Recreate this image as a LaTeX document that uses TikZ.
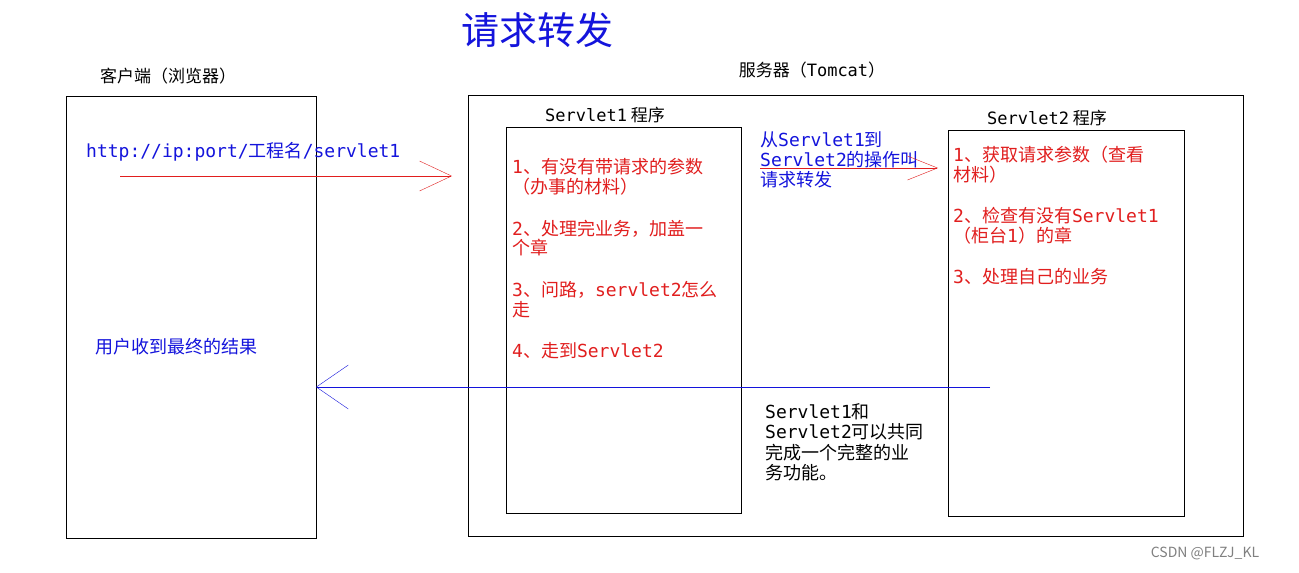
\documentclass[tikz,border=0pt]{standalone}
\usepackage{fontspec}
\setmainfont{Noto Sans CJK SC}
\newfontfamily\monof{DejaVu Sans Mono}
\newcommand\ml[1]{{\monof #1}}
\usetikzlibrary{arrows.meta}
\definecolor{tblue}{RGB}{20,20,220}
\definecolor{tred}{RGB}{225,30,30}
\tikzset{
  box/.style={draw=black, line width=1pt},
  txt/.style={anchor=west, inner sep=0pt, font=\fontsize{18}{20}\selectfont},
  redt/.style={txt, text=tred},
  bluet/.style={txt, text=tblue},
  lab/.style={inner sep=0pt, font=\fontsize{17}{19}\selectfont},
}
\begin{document}
\begin{tikzpicture}[x=1pt,y=-1pt]
\useasboundingbox (0,0) rectangle (1299,573);
\fill[white] (0,0) rectangle (1299,573);
\node[text=tblue, font=\fontsize{38}{42}\selectfont] (title) at (537,30) {请求转发};
\node[lab] (cl) at (168,76) {客户端（浏览器）};
\node[lab] (sl) at (812,70) {服务器（\ml{Tomcat}）};
\draw[box] (66,96) rectangle (316,538);
\draw[box] (468,95) rectangle (1243,536);
\draw[box] (506,127) rectangle (741,513);
\draw[box] (948,130) rectangle (1184,516);
\node[lab] (s1) at (605,115) {\ml{Servlet1} 程序};
\node[lab] (s2) at (1047,118) {\ml{Servlet2} 程序};
\node[bluet] (url) at (86,152) {\ml{http://ip:port/}工程名\ml{/servlet1}};
\node[bluet] (res) at (95,347) {用户收到最终的结果};
\node[redt] at (512,167) {\ml{1}、有没有带请求的参数};
\node[redt] at (512,187) {（办事的材料）};
\node[redt] at (512,229) {\ml{2}、处理完业务，加盖一};
\node[redt] at (512,248) {个章};
\node[redt] at (512,290) {\ml{3}、问路，\ml{servlet2}怎么};
\node[redt] at (512,310) {走};
\node[redt] at (512,351) {\ml{4}、走到\ml{Servlet2}};
\node[bluet] at (760,140) {从\ml{Servlet1}到};
\node[bluet] at (760,160) {\ml{Servlet2}的操作叫};
\node[bluet] at (760,180) {请求转发};
\node[redt] at (953,155) {\ml{1}、获取请求参数（查看};
\node[redt] at (953,175) {材料）};
\node[redt] at (953,216) {\ml{2}、检查有没有\ml{Servlet1}};
\node[redt] at (953,236) {（柜台\ml{1}）的章};
\node[redt] at (953,277) {\ml{3}、处理自己的业务};
\node[txt] at (765,412) {\ml{Servlet1}和};
\node[txt] at (765,432) {\ml{Servlet2}可以共同};
\node[txt] at (765,453) {完成一个完整的业};
\node[txt] at (765,473) {务功能。};
\node[text=gray, font=\fontsize{14}{16}\selectfont] (wm) at (1205,553) {CSDN @FLZJ\_KL};
\coordinate (a1s) at (120,176); \coordinate (a1e) at (452,176);
\coordinate (a2s) at (760,168); \coordinate (a2e) at (938,168);
\coordinate (a3s) at (990,387); \coordinate (a3e) at (316,387);
\draw[tred, -{Straight Barb[length=32pt,width=30pt]}] (a1s) -- (a1e);
\draw[tred, -{Straight Barb[length=30pt,width=24pt]}] (a2s) -- (a2e);
\draw[tblue, -{Straight Barb[length=32pt,width=44pt]}] (a3s) -- (a3e);
\end{tikzpicture}
\end{document}
